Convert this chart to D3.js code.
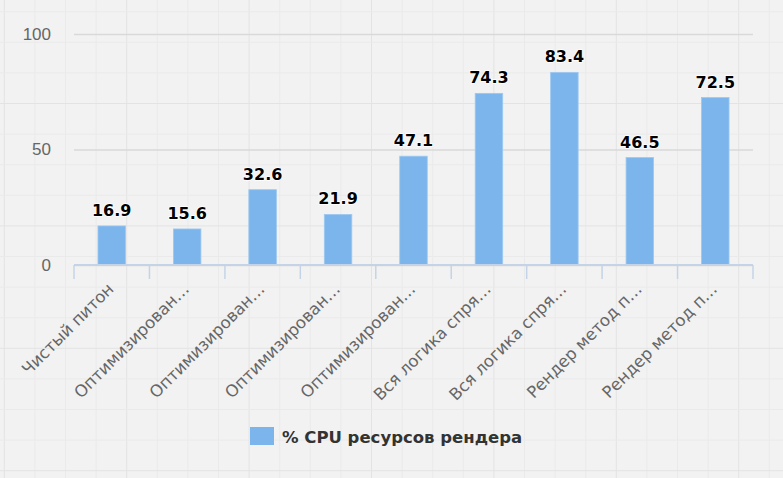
<!DOCTYPE html>
<html>
<head>
<meta charset="utf-8">
<script src="https://cdn.jsdelivr.net/npm/d3@7/dist/d3.min.js"></script>
<style>
  html, body { margin: 0; padding: 0; background: #f2f2f2; }
  svg { display: block; font-family: "DejaVu Sans", sans-serif; }
</style>
</head>
<body>
<svg id="chart" width="783" height="478"></svg>
<script>
// data
var categories = [
  "Чистый питон",
  "Оптимизирован…",
  "Оптимизирован…",
  "Оптимизирован…",
  "Оптимизирован…",
  "Вся логика спря…",
  "Вся логика спря…",
  "Рендер метод п…",
  "Рендер метод п…"
];
var cpuValues = [16.9, 15.6, 32.6, 21.9, 47.1, 74.3, 83.4, 46.5, 72.5];
var yTicks = [0, 50, 100];
var seriesName = "% CPU ресурсов рендера";

var svg = d3.select("#chart"),
    width = +svg.attr("width"),
    height = +svg.attr("height");

var barColor = "#7cb5ec";

// page background with the squared paper pattern
svg.append("rect")
    .attr("width", width)
    .attr("height", height)
    .attr("fill", "#f2f2f2");

var paper = svg.append("g").attr("class", "paper");
var step = 30.6;
d3.range(0, 26).forEach(function(i) {
  var x = 4.3 + i * step;
  paper.append("line")
      .attr("x1", x).attr("x2", x)
      .attr("y1", 0).attr("y2", height)
      .attr("stroke", i % 4 === 0 ? "#e3e3e3" : "#eaeaea")
      .attr("stroke-width", 1);
});
d3.range(0, 16).forEach(function(i) {
  var y = 11.7 + i * step;
  paper.append("line")
      .attr("x1", 0).attr("x2", width)
      .attr("y1", y).attr("y2", y)
      .attr("stroke", i % 4 === 3 ? "#e3e3e3" : "#eaeaea")
      .attr("stroke-width", 1);
});

// plot area
var plotLeft = 74, plotRight = 753, plotTop = 34, plotBottom = 265;

var x = d3.scaleBand()
    .domain(d3.range(categories.length))
    .range([plotLeft, plotRight])
    .paddingInner(0)
    .paddingOuter(0);

var y = d3.scaleLinear()
    .domain([0, 100])
    .range([plotBottom, plotTop]);

// y grid + labels
var yAxis = d3.axisLeft(y)
    .tickValues(yTicks)
    .tickSize(-(plotRight - plotLeft))
    .tickPadding(23);

var gy = svg.append("g")
    .attr("transform", "translate(" + plotLeft + ",0)")
    .call(yAxis);
gy.select(".domain").remove();
gy.selectAll(".tick line")
    .attr("stroke", "#d9d9d9")
    .attr("stroke-width", 1.5);
gy.selectAll(".tick text")
    .attr("fill", "#666")
    .attr("font-size", "17px");

// bars
var barWidth = 27.5;
svg.append("g")
  .selectAll("rect")
  .data(cpuValues)
  .join("rect")
    .attr("x", function(d, i) { return x(i) + x.bandwidth() / 2 - barWidth / 2; })
    .attr("y", function(d) { return y(d); })
    .attr("width", barWidth)
    .attr("height", function(d) { return y(0) - y(d); })
    .attr("fill", barColor)
    .attr("stroke", "#9cc8f0")
    .attr("stroke-width", 0.8);

// value labels
svg.append("g")
  .selectAll("text")
  .data(cpuValues)
  .join("text")
    .attr("x", function(d, i) { return x(i) + x.bandwidth() / 2; })
    .attr("y", function(d) { return y(d) - 10; })
    .attr("text-anchor", "middle")
    .attr("font-size", "16px")
    .attr("font-weight", "bold")
    .attr("fill", "#000")
    .attr("stroke", "#fff")
    .attr("stroke-width", 1.5)
    .attr("paint-order", "stroke")
    .text(function(d) { return d.toFixed(1); });

// x axis with ticks on category boundaries
var boundaries = d3.range(categories.length + 1).map(function(i) {
  return plotLeft + i * x.step();
});
var gx = svg.append("g");
gx.append("line")
    .attr("x1", plotLeft).attr("x2", plotRight)
    .attr("y1", plotBottom).attr("y2", plotBottom)
    .attr("stroke", "#c4d4e6")
    .attr("stroke-width", 2);
gx.selectAll("line.tick")
  .data(boundaries)
  .join("line")
    .attr("class", "tick")
    .attr("x1", function(d) { return d; })
    .attr("x2", function(d) { return d; })
    .attr("y1", plotBottom)
    .attr("y2", plotBottom + 14)
    .attr("stroke", "#c4d4e6")
    .attr("stroke-width", 1.5);

gx.selectAll("text")
  .data(categories)
  .join("text")
    .attr("transform", function(d, i) {
      return "translate(" + (x(i) + x.bandwidth() / 2 + 3) + "," + (plotBottom + 25) + ") rotate(-45)";
    })
    .attr("text-anchor", "end")
    .attr("font-size", "16.5px")
    .attr("fill", "#666")
    .text(function(d) { return d; });

// legend
var legend = svg.append("g").attr("transform", "translate(250,427)");
legend.append("rect")
    .attr("width", 24)
    .attr("height", 18)
    .attr("fill", barColor);
legend.append("text")
    .attr("x", 32)
    .attr("y", 16)
    .attr("font-size", "16.5px")
    .attr("font-weight", "bold")
    .attr("fill", "#333")
    .text(seriesName);
</script>
</body>
</html>
